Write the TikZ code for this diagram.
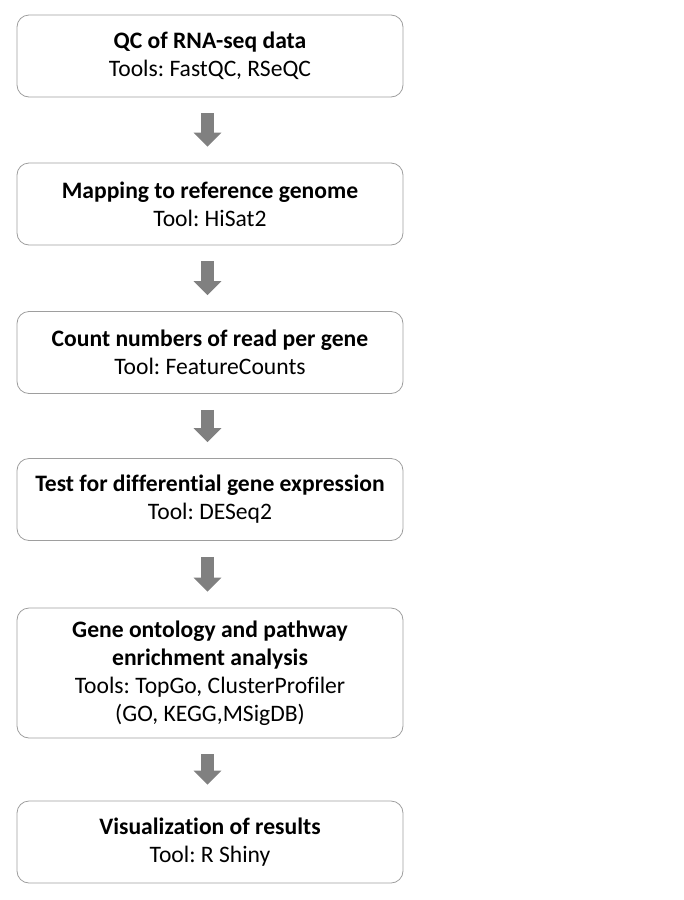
\documentclass[tikz,border=0pt]{standalone}
\usepackage{fontspec}
\setmainfont{Carlito}[Ligatures=NoCommon]
\usepackage{tikz}
\usetikzlibrary{positioning, arrows.meta, calc}
\frenchspacing

\begin{document}
\begin{tikzpicture}[
    x=1pt, y=-1pt,
    every node/.style = {font=\fontsize{23.6}{28}\selectfont},
    stepbox/.style = {draw=black!38, line width=0.8pt, rounded corners=12pt,
                      minimum width=386pt, minimum height=82pt, align=center,
                      inner sep=0pt},
    arr/.style = {-{Triangle[length=14pt, width=27pt]}, line width=13pt,
                  draw=black!50, shorten <=16pt, shorten >=16pt}
]
\useasboundingbox (0,0) rectangle (684,900);

% Pipeline steps
\node[stepbox] (qc) at (210,56) {\textbf{QC of RNA-seq data}\\Tools: FastQC, RSeQC};
\node[stepbox] (map) at (210,204) {\textbf{Mapping to reference genome}\\Tool: HiSat2};
\node[stepbox] (count) at (210,352.5) {\textbf{Count numbers of read per gene}\\Tool: FeatureCounts};
\node[stepbox] (deg) at (210,499.5) {\textbf{Test for differential gene expression}\\Tool: DESeq2};
\node[stepbox, minimum height=130pt] (go) at (210,673) {\textbf{Gene ontology and pathway}\\\textbf{enrichment analysis}\\Tools: TopGo, ClusterProfiler\\(GO, KEGG,MSigDB)};
\node[stepbox] (vis) at (210,842) {\textbf{Visualization of results}\\Tool: R Shiny};

% Arrows between steps
\draw[arr] ([xshift=-2.5pt]qc.south) -- ([xshift=-2.5pt]map.north);
\draw[arr] ([xshift=-2.5pt]map.south) -- ([xshift=-2.5pt]count.north);
\draw[arr] ([xshift=-2.5pt]count.south) -- ([xshift=-2.5pt]deg.north);
\draw[arr] ([xshift=-2.5pt]deg.south) -- ([xshift=-2.5pt]go.north);
\draw[arr] ([xshift=-2.5pt]go.south) -- ([xshift=-2.5pt]vis.north);

\end{tikzpicture}
\end{document}
